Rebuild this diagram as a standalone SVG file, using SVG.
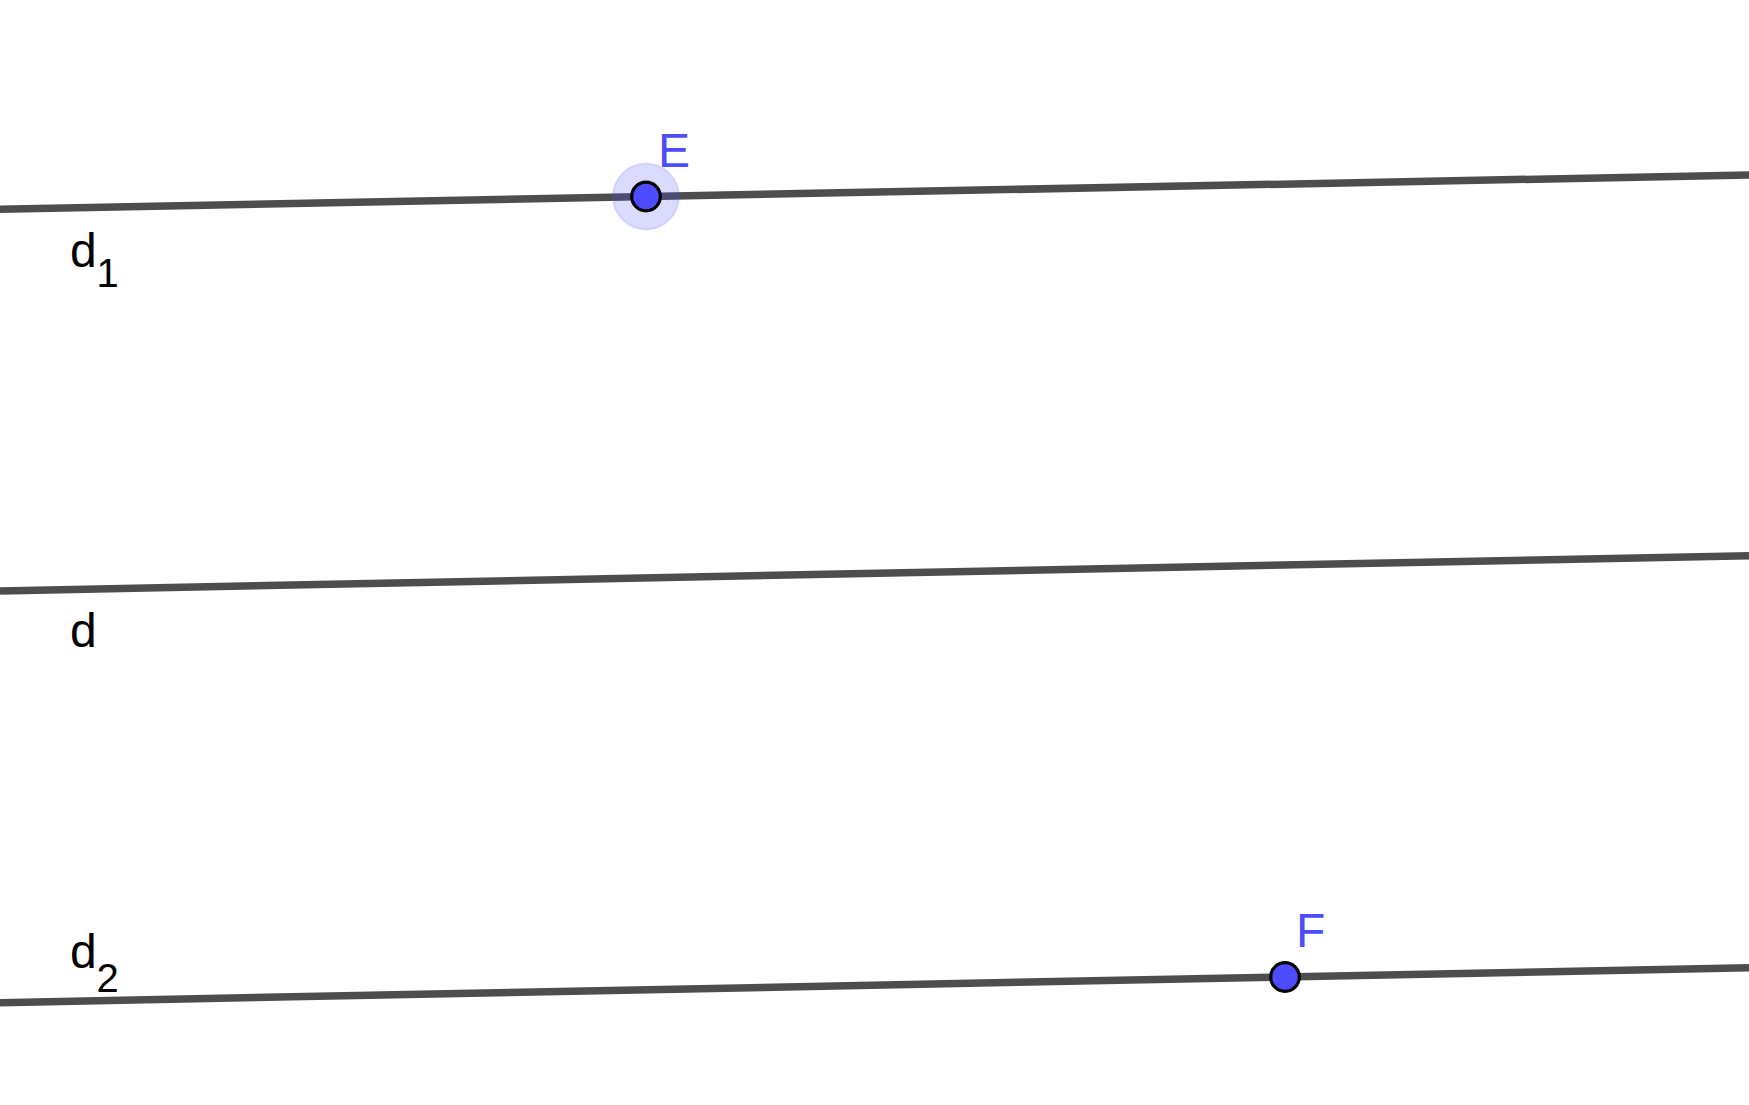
<svg xmlns="http://www.w3.org/2000/svg" width="1749" height="1105" viewBox="0 0 1749 1105">
<style>
.ln{stroke:#4d4d4d;stroke-width:7.5;fill:none}
.lbl{font-family:"Liberation Sans",Arial,sans-serif;font-size:48px;fill:#000}
.sub{font-family:"Liberation Sans",Arial,sans-serif;font-size:40px;fill:#000}
.plbl{font-family:"Liberation Sans",Arial,sans-serif;font-size:48px;fill:#4d4dff}
.pt{fill:#4d4dff;stroke:#000;stroke-width:3.2}
.halo{fill:#4d4dff;fill-opacity:0.2;stroke:#4d4dff;stroke-opacity:0.15;stroke-width:2}
</style>
<rect width="1749" height="1105" fill="#fff"/>
<g id="connectors">
<line class="ln" x1="0" y1="209.3" x2="1749" y2="175"/>
<line class="ln" x1="0" y1="591" x2="1749" y2="555.7"/>
<line class="ln" x1="0" y1="1002.7" x2="1749" y2="967.7"/>
</g>
<g id="d1">
<text class="lbl" x="70" y="267">d</text><text class="sub" x="96.5" y="287">1</text>
</g>
<g id="d">
<text class="lbl" x="70" y="647">d</text>
</g>
<g id="d2">
<text class="lbl" x="70" y="968">d</text><text class="sub" x="96.5" y="992">2</text>
</g>
<g id="E">
<circle class="halo" cx="646" cy="196.5" r="33"/>
<circle class="pt" cx="646" cy="196.5" r="14.3"/>
<text class="plbl" x="658" y="167">E</text>
</g>
<g id="F">
<circle class="pt" cx="1285" cy="977" r="14.3"/>
<text class="plbl" x="1296" y="947">F</text>
</g>
</svg>
